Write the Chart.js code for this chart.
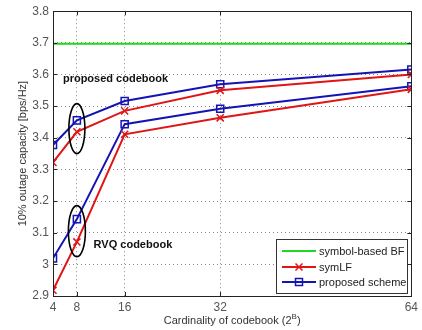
<!DOCTYPE html>
<html>
<head>
<meta charset="utf-8">
<script src="https://cdn.jsdelivr.net/npm/chart.js@4/dist/chart.umd.min.js"></script>
<style>
  html, body { margin: 0; padding: 0; background: #fff; }
  #wrap { width: 422px; height: 330px; }
</style>
</head>
<body>
<div id="wrap"><canvas id="c" width="422" height="330"></canvas></div>
<script>
// codebook cardinality (2^B)
const codebookSize = [4, 8, 16, 32, 64];
const yTicks = [2.9, 3.0, 3.1, 3.2, 3.3, 3.4, 3.5, 3.6, 3.7, 3.8];

// 10% outage capacity [bps/Hz]
const symbolBF = [3.697, 3.697, 3.697, 3.697, 3.697];
const symLFProposed = [3.322, 3.419, 3.485, 3.550, 3.600];
const schemeProposed = [3.377, 3.455, 3.516, 3.569, 3.616];
const symLFRvq = [2.918, 3.071, 3.411, 3.463, 3.553];
const schemeRvq = [3.019, 3.143, 3.443, 3.492, 3.563];

const legendNames = ['symbol-based BF', 'symLF', 'proposed scheme'];

const GREEN = '#22d622';
const RED = '#e01515';
const BLUE = '#1414b4';
const FONT = '"Liberation Sans", Arial, sans-serif';

const pts = (vals) => vals.map((v, i) => ({ x: codebookSize[i], y: v }));

function lineSet(label, vals, color, style) {
  return {
    label: label,
    data: pts(vals),
    borderColor: color,
    backgroundColor: 'transparent',
    borderWidth: 2,
    pointStyle: style,
    pointRadius: style ? 5 : 0,
    pointBorderWidth: 1.5,
    pointBorderColor: color,
    pointBackgroundColor: 'transparent',
    tension: 0
  };
}

// ellipse + text annotations (data coordinates)
const ellipses = [
  { x: 8, y: 3.429, rx: 8, ry: 25 },
  { x: 8, y: 3.105, rx: 8.5, ry: 25.5 }
];
const notes = [
  { text: 'proposed codebook', x: 5.66, y: 3.585 },
  { text: 'RVQ codebook', x: 10.8, y: 3.062 }
];

const overlay = {
  id: 'overlay',
  afterDraw(chart) {
    const { ctx, chartArea: a, scales: { x, y } } = chart;
    ctx.save();

    // box
    ctx.strokeStyle = '#222';
    ctx.lineWidth = 1;
    ctx.setLineDash([]);
    ctx.strokeRect(Math.round(a.left) + 0.5, Math.round(a.top) + 0.5,
      Math.round(a.right - a.left), Math.round(a.bottom - a.top));

    // inward ticks
    ctx.beginPath();
    codebookSize.forEach(v => {
      const px = Math.round(x.getPixelForValue(v)) + 0.5;
      ctx.moveTo(px, a.bottom); ctx.lineTo(px, a.bottom - 4);
      ctx.moveTo(px, a.top); ctx.lineTo(px, a.top + 4);
    });
    yTicks.forEach(v => {
      const py = Math.round(y.getPixelForValue(v)) + 0.5;
      ctx.moveTo(a.left, py); ctx.lineTo(a.left + 4, py);
      ctx.moveTo(a.right, py); ctx.lineTo(a.right - 4, py);
    });
    ctx.stroke();

    // ellipses
    ctx.strokeStyle = '#000';
    ctx.lineWidth = 1.6;
    ellipses.forEach(e => {
      ctx.beginPath();
      ctx.ellipse(x.getPixelForValue(e.x), y.getPixelForValue(e.y), e.rx, e.ry, 0, 0, Math.PI * 2);
      ctx.stroke();
    });

    // bold notes
    ctx.fillStyle = '#111';
    ctx.font = 'bold 11px ' + FONT;
    ctx.textBaseline = 'middle';
    ctx.textAlign = 'left';
    notes.forEach(n => {
      ctx.fillText(n.text, x.getPixelForValue(n.x), y.getPixelForValue(n.y));
    });

    // legend
    const lx = 276, ly = 239, lw = 131, lh = 54;
    ctx.fillStyle = '#fff';
    ctx.fillRect(lx, ly, lw, lh);
    ctx.strokeStyle = '#333';
    ctx.lineWidth = 1;
    ctx.strokeRect(lx + 0.5, ly + 0.5, lw, lh);
    const colors = [GREEN, RED, BLUE];
    const rows = [251, 267, 282];
    ctx.font = '11px ' + FONT;
    rows.forEach((ry, i) => {
      ctx.strokeStyle = colors[i];
      ctx.lineWidth = 2;
      ctx.beginPath();
      ctx.moveTo(282, ry); ctx.lineTo(316, ry);
      ctx.stroke();
      ctx.lineWidth = 1.5;
      if (i === 1) {
        ctx.beginPath();
        ctx.moveTo(295.5, ry - 3.5); ctx.lineTo(302.5, ry + 3.5);
        ctx.moveTo(302.5, ry - 3.5); ctx.lineTo(295.5, ry + 3.5);
        ctx.stroke();
      } else if (i === 2) {
        ctx.strokeRect(295.5, ry - 3.5, 7, 7);
      }
      ctx.fillStyle = '#222';
      ctx.textAlign = 'left';
      ctx.fillText(legendNames[i], 319, ry + 0.5);
    });

    // x title with superscript
    const cx = (a.left + a.right) / 2;
    const main = 'Cardinality of codebook (2';
    ctx.font = '11px ' + FONT;
    const w1 = ctx.measureText(main).width;
    ctx.font = '8px ' + FONT;
    const w2 = ctx.measureText('B').width;
    ctx.font = '11px ' + FONT;
    const w3 = ctx.measureText(')').width;
    let sx = cx - (w1 + w2 + w3) / 2;
    const by = 324;
    ctx.fillStyle = '#333';
    ctx.textBaseline = 'alphabetic';
    ctx.fillText(main, sx, by);
    ctx.font = '8px ' + FONT;
    ctx.fillText('B', sx + w1, by - 5);
    ctx.font = '11px ' + FONT;
    ctx.fillText(')', sx + w1 + w2, by);

    ctx.restore();
  }
};

new Chart(document.getElementById('c'), {
  type: 'line',
  data: {
    datasets: [
      lineSet(legendNames[0], symbolBF, GREEN, false),
      lineSet(legendNames[1], symLFProposed, RED, 'crossRot'),
      lineSet(legendNames[2], schemeProposed, BLUE, 'rect'),
      lineSet(legendNames[1], symLFRvq, RED, 'crossRot'),
      lineSet(legendNames[2], schemeRvq, BLUE, 'rect')
    ]
  },
  plugins: [overlay],
  options: {
    responsive: false,
    animation: false,
    layout: { padding: { left: 0, right: 7, top: 10, bottom: 0 } },
    plugins: { legend: { display: false }, tooltip: { enabled: false } },
    scales: {
      x: {
        type: 'linear',
        min: 4,
        max: 64,
        afterBuildTicks: (s) => { s.ticks = codebookSize.map(v => ({ value: v })); },
        afterFit: (s) => { s.height = 34; },
        grid: { color: '#888', lineWidth: 1, drawTicks: false },
        border: { display: false, dash: [1, 3] },
        ticks: { color: '#555', padding: 4, font: { family: FONT, size: 12 }, maxRotation: 0 }
      },
      y: {
        min: 2.9,
        max: 3.8,
        afterBuildTicks: (s) => { s.ticks = yTicks.map(v => ({ value: v })); },
        afterFit: (s) => { s.width = 53; },
        grid: { color: '#888', lineWidth: 1, drawTicks: false },
        border: { display: false, dash: [1, 3] },
        ticks: {
          color: '#555', padding: 4, font: { family: FONT, size: 12 },
          callback: (v) => String(+v.toFixed(1))
        },
        title: {
          display: true, text: '10% outage capacity [bps/Hz]', color: '#333',
          font: { family: FONT, size: 11 }, padding: { top: 16, bottom: 2 }
        }
      }
    }
  }
});
</script>
</body>
</html>
